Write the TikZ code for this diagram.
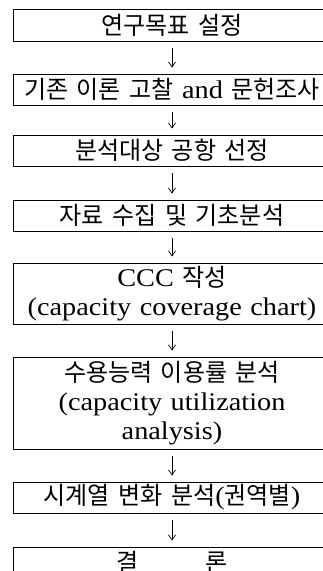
\documentclass[tikz,border=0pt]{standalone}
\usepackage{fontspec}
\setmainfont{Liberation Serif}[Scale=1.04, FakeStretch=1.11, WordSpace=2.5]
\newfontfamily\kr{Noto Sans CJK KR}[FakeStretch=0.98, WordSpace=1.8]
\usetikzlibrary{arrows.meta}
\begin{document}
\begin{tikzpicture}[x=1pt,y=-1pt,
  box/.style={draw=black, line width=1pt, minimum width=318pt, text width=316pt,
    align=center, inner xsep=1pt, inner ysep=0pt, font=\fontsize{24.5}{29}\selectfont},
  arr/.style={-{Straight Barb[length=5pt,width=7pt]}, line width=0.7pt,
    shorten <=6.5pt, shorten >=6pt}]
\useasboundingbox (0,0) rectangle (323,571);
\clip (0,0) rectangle (323,571);
\node[box, minimum height=32pt] (b1) at (172,25) {\kr 연구목표 설정};
\node[box, minimum height=31pt] (b2) at (172,89.5) {{\kr 기존 이론 고찰} and {\kr 문헌조사}};
\node[box, minimum height=31pt] (b3) at (172,150.5) {\kr 분석대상 공항 선정};
\node[box, minimum height=31pt] (b4) at (172,215.5) {\kr 자료 수집 및 기초분석};
\node[box, minimum height=61pt] (b5) at (172,293.5) {CCC {\kr 작성}\\(capacity coverage chart)};
\node[box, minimum height=92pt] (b6) at (172,403) {{\kr 수용능력 이용률 분석}\\(capacity utilization\\analysis)};
\node[box, minimum height=31pt] (b7) at (172,497.5) {{\kr 시계열 변화 분석}({\kr 권역별})};
\node[box, minimum height=31pt] (b8) at (172,562.5) {\kr 결\hspace{67pt}론};
\draw[arr] (b1.south) -- (b2.north);
\draw[arr] (b2.south) -- (b3.north);
\draw[arr] (b3.south) -- (b4.north);
\draw[arr] (b4.south) -- (b5.north);
\draw[arr] (b5.south) -- (b6.north);
\draw[arr] (b6.south) -- (b7.north);
\draw[arr] (b7.south) -- (b8.north);
\end{tikzpicture}
\end{document}
